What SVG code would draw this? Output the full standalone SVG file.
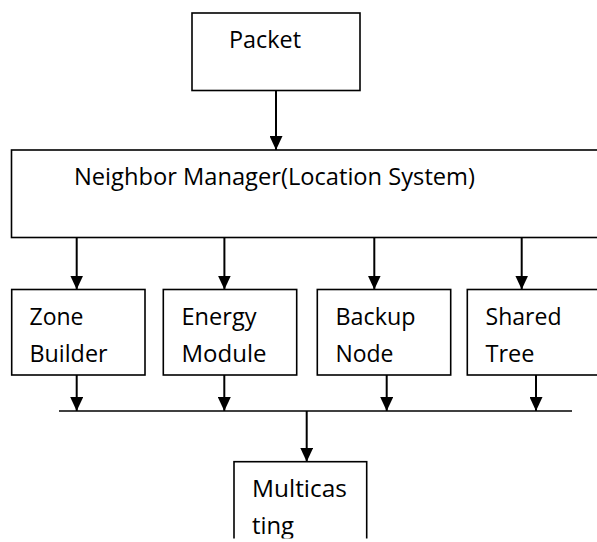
<svg xmlns="http://www.w3.org/2000/svg" width="597" height="542" viewBox="0 0 597 542">
<style>
.box{fill:#fff;stroke:#000;stroke-width:1.6}
.lbl{font-family:"Open Sans","Noto Sans","Liberation Sans",sans-serif;font-size:23px;fill:#000}
.con line{stroke:#000;stroke-width:2}
</style>
<defs>
<marker id="ah" viewBox="0 0 14 13" refX="14" refY="6.5" markerWidth="14" markerHeight="13" markerUnits="userSpaceOnUse" orient="auto">
<path d="M0,0 L14,6.5 L0,13 Z" fill="#000"/>
</marker>
</defs>
<rect width="597" height="542" fill="#fff"/>
<g id="packet">
<rect class="box" x="192" y="13" width="168" height="77.5"/>
<text class="lbl" x="229" y="48" textLength="72" lengthAdjust="spacingAndGlyphs">Packet</text>
</g>
<g id="neighbor-manager">
<rect class="box" x="11.5" y="150" width="620" height="87.5"/>
<text class="lbl" x="74" y="185" textLength="401" lengthAdjust="spacingAndGlyphs">Neighbor Manager(Location System)</text>
</g>
<g id="zone-builder">
<rect class="box" x="11.7" y="289.5" width="133.3" height="85.5"/>
<text class="lbl" x="29.5" y="325" textLength="54" lengthAdjust="spacingAndGlyphs">Zone</text>
<text class="lbl" x="29.5" y="362" textLength="78" lengthAdjust="spacingAndGlyphs">Builder</text>
</g>
<g id="energy-module">
<rect class="box" x="163.3" y="289.5" width="133.4" height="85.5"/>
<text class="lbl" x="181.5" y="325" textLength="75" lengthAdjust="spacingAndGlyphs">Energy</text>
<text class="lbl" x="181.5" y="362" textLength="85" lengthAdjust="spacingAndGlyphs">Module</text>
</g>
<g id="backup-node">
<rect class="box" x="317.3" y="289.5" width="133.4" height="85.5"/>
<text class="lbl" x="335.5" y="325" textLength="80" lengthAdjust="spacingAndGlyphs">Backup</text>
<text class="lbl" x="335.5" y="362" textLength="58" lengthAdjust="spacingAndGlyphs">Node</text>
</g>
<g id="shared-tree">
<rect class="box" x="467.3" y="289.5" width="160" height="85.5"/>
<text class="lbl" x="485.5" y="325" textLength="76" lengthAdjust="spacingAndGlyphs">Shared</text>
<text class="lbl" x="485.5" y="362" textLength="49" lengthAdjust="spacingAndGlyphs">Tree</text>
</g>
<g id="multicasting">
<rect class="box" x="234" y="461.7" width="132.7" height="100"/>
<text class="lbl" x="252" y="497" textLength="95" lengthAdjust="spacingAndGlyphs">Multicas</text>
<text class="lbl" x="252" y="534" textLength="42" lengthAdjust="spacingAndGlyphs">ting</text>
</g>
<g id="connectors" class="con">
<line x1="276" y1="90.5" x2="276" y2="150" marker-end="url(#ah)"/>
<line x1="76.7" y1="237.5" x2="76.7" y2="289.5" marker-end="url(#ah)"/>
<line x1="224.4" y1="237.5" x2="224.4" y2="289.5" marker-end="url(#ah)"/>
<line x1="374.3" y1="237.5" x2="374.3" y2="289.5" marker-end="url(#ah)"/>
<line x1="521.7" y1="237.5" x2="521.7" y2="289.5" marker-end="url(#ah)"/>
<line x1="76.7" y1="375" x2="76.7" y2="411" marker-end="url(#ah)"/>
<line x1="224.3" y1="375" x2="224.3" y2="411" marker-end="url(#ah)"/>
<line x1="386.7" y1="375" x2="386.7" y2="411" marker-end="url(#ah)"/>
<line x1="536" y1="375" x2="536" y2="411" marker-end="url(#ah)"/>
<line x1="59" y1="411" x2="572" y2="411" style="stroke-width:1.6"/>
<line x1="306.7" y1="411" x2="306.7" y2="461.7" marker-end="url(#ah)"/>
</g>
<rect x="0" y="538.5" width="597" height="4" fill="#fff"/>
</svg>
